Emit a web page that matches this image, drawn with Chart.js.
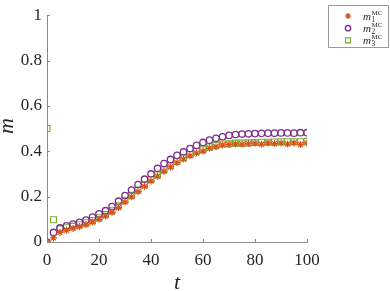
<!DOCTYPE html>
<html>
<head>
<meta charset="utf-8">
<script src="https://cdn.jsdelivr.net/npm/chart.js@4/dist/chart.umd.min.js"></script>
<style>
  html, body { margin: 0; padding: 0; background: #fff; }
  #wrap { width: 390px; height: 291px; }
</style>
</head>
<body>
<div id="wrap"><canvas id="chart" width="390" height="291"></canvas></div>
<script>
// time samples
const tValues = [0, 2.5, 5, 7.5, 10, 12.5, 15, 17.5, 20, 22.5, 25, 27.5, 30, 32.5, 35, 37.5, 40,
  42.5, 45, 47.5, 50, 52.5, 55, 57.5, 60, 62.5, 65, 67.5, 70, 72.5, 75, 77.5, 80,
  82.5, 85, 87.5, 90, 92.5, 95, 97.5, 100];

// m1 MC (stars)
const m1 = [0, 0.018, 0.042, 0.052, 0.060, 0.068, 0.077, 0.088, 0.100, 0.114, 0.131, 0.152, 0.176,
  0.199, 0.222, 0.245, 0.268, 0.290, 0.312, 0.331, 0.350, 0.366, 0.380, 0.392, 0.401,
  0.414, 0.420, 0.428, 0.430, 0.433, 0.431, 0.434, 0.436, 0.431, 0.437, 0.434, 0.436,
  0.432, 0.437, 0.430, 0.436];

// m2 MC (circles)
const m2 = [0, 0.042, 0.062, 0.071, 0.079, 0.087, 0.097, 0.110, 0.124, 0.138, 0.156, 0.180, 0.205,
  0.229, 0.253, 0.277, 0.300, 0.325, 0.346, 0.364, 0.382, 0.397, 0.412, 0.426, 0.439,
  0.449, 0.457, 0.464, 0.470, 0.474, 0.476, 0.477, 0.478, 0.479, 0.480, 0.480, 0.481,
  0.481, 0.480, 0.482, 0.482];

// m3 MC (squares)
const m3 = [0.5, 0.098, 0.058, 0.063, 0.069, 0.076, 0.085, 0.095, 0.107, 0.121, 0.138, 0.160, 0.184,
  0.206, 0.229, 0.252, 0.276, 0.296, 0.319, 0.336, 0.355, 0.372, 0.386, 0.400, 0.407,
  0.419, 0.426, 0.432, 0.433, 0.436, 0.436, 0.437, 0.439, 0.440, 0.440, 0.441, 0.442,
  0.442, 0.442, 0.442, 0.444];

const xTicks = [0, 20, 40, 60, 80, 100];
const yTicks = [0, 0.2, 0.4, 0.6, 0.8, 1];

const RED = '#D95319', PURPLE = '#7E2F8E', GREEN = '#77AC30';
const AXIS = '#8a8a8a', TXT = '#262626';
const SERIF = '"Liberation Serif", "DejaVu Serif", serif';

const toPts = ys => tValues.map((t, i) => ({ x: t, y: ys[i] }));

const series = [
  { sub: '1', data: m1, color: RED, style: 'star', r: 3.5, bw: 1.2 },
  { sub: '2', data: m2, color: PURPLE, style: 'circle', r: 3.2, bw: 1.3 },
  { sub: '3', data: m3, color: GREEN, style: 'rect', r: 4.2, bw: 1.1 }
];

// inward tick marks, axis titles and the legend box
const extras = {
  id: 'extras',
  afterDraw(chart) {
    const { ctx, chartArea: a } = chart;
    const xs = chart.scales.x, ys = chart.scales.y;
    ctx.save();
    ctx.strokeStyle = AXIS;
    ctx.lineWidth = 1;
    ctx.beginPath();
    xTicks.forEach(v => {
      const px = Math.round(xs.getPixelForValue(v)) + 0.5;
      ctx.moveTo(px, a.bottom); ctx.lineTo(px, a.bottom - 3);
    });
    yTicks.forEach(v => {
      const py = Math.round(ys.getPixelForValue(v)) + 0.5;
      ctx.moveTo(a.left, py); ctx.lineTo(a.left + 3, py);
    });
    ctx.stroke();

    // axis titles
    ctx.fillStyle = TXT;
    ctx.font = 'italic 22px ' + SERIF;
    ctx.textAlign = 'center';
    ctx.textBaseline = 'middle';
    ctx.fillText('t', (a.left + a.right) / 2, 283);
    ctx.save();
    ctx.translate(7, 126);
    ctx.rotate(-Math.PI / 2);
    ctx.fillText('m', 0, 0);
    ctx.restore();

    // legend
    ctx.fillStyle = '#fff';
    ctx.fillRect(328.5, 5.5, 60, 42);
    ctx.strokeStyle = '#9a9a9a';
    ctx.strokeRect(328.5, 5.5, 60, 42);
    series.forEach((s, i) => {
      const y = 16 + i * 12.2;
      ctx.strokeStyle = s.color;
      ctx.fillStyle = 'rgba(0,0,0,0)';
      ctx.lineWidth = s.bw;
      Chart.helpers.drawPoint(ctx, { pointStyle: s.style, radius: s.r * 0.85, rotation: 0, borderWidth: s.bw }, 348, y);
      ctx.fillStyle = TXT;
      ctx.textAlign = 'left';
      ctx.textBaseline = 'alphabetic';
      ctx.font = 'italic 11px ' + SERIF;
      ctx.fillText('m', 363, y + 3.5);
      const mw = ctx.measureText('m').width;
      ctx.font = '7.5px ' + SERIF;
      ctx.fillText(s.sub, 363 + mw + 0.5, y + 6);
      ctx.font = '7px ' + SERIF;
      ctx.fillText('MC', 363 + mw + 0.5, y - 1.5);
    });
    ctx.restore();
  }
};

new Chart(document.getElementById('chart'), {
  type: 'scatter',
  data: {
    datasets: series.map(s => ({
      label: 'm' + s.sub + ' MC',
      data: toPts(s.data),
      showLine: false,
      pointStyle: s.style,
      pointRadius: s.r,
      pointBorderWidth: s.bw,
      pointBorderColor: s.color,
      pointBackgroundColor: 'rgba(0,0,0,0)'
    }))
  },
  options: {
    responsive: false,
    devicePixelRatio: 1,
    animation: false,
    layout: { padding: { left: 0, right: 83, top: 8, bottom: 0 } },
    plugins: { legend: { display: false }, tooltip: { enabled: false } },
    scales: {
      x: {
        type: 'linear', min: 0, max: 100,
        afterFit: s => { s.height = 49; },
        afterBuildTicks: s => { s.ticks = xTicks.map(v => ({ value: v })); },
        grid: { display: false, drawTicks: false },
        border: { display: true, color: AXIS, width: 1 },
        ticks: { font: { family: SERIF, size: 17 }, color: TXT, padding: 8, maxRotation: 0,
          callback: v => String(v) }
      },
      y: {
        type: 'linear', min: 0, max: 1,
        afterFit: s => { s.width = 47; },
        afterBuildTicks: s => { s.ticks = yTicks.map(v => ({ value: v })); },
        grid: { display: false, drawTicks: false },
        border: { display: true, color: AXIS, width: 1 },
        ticks: { font: { family: SERIF, size: 17 }, color: TXT, padding: 5,
          callback: v => String(Math.round(v * 10) / 10) }
      }
    }
  },
  plugins: [extras]
});
</script>
</body>
</html>
